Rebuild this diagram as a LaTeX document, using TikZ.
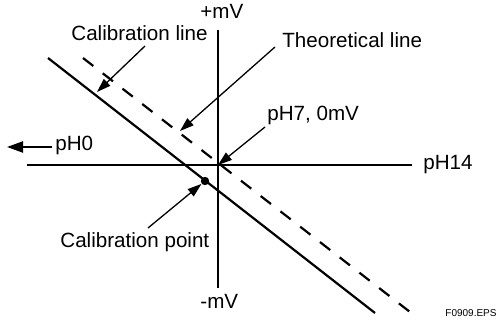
\documentclass[tikz,border=0pt]{standalone}
\usepackage{fontspec}
\setmainfont{Liberation Sans}
\usetikzlibrary{arrows.meta,positioning}

\begin{document}
\begin{tikzpicture}[x=0.5pt, y=-0.5pt,
    >={Triangle[length=7pt,width=4.6pt]},
    axis/.style={line width=1.1pt},
    pointer/.style={->, line width=0.65pt},
    lbl/.style={inner sep=0pt, anchor=base west, font=\fontsize{10.3}{12}\selectfont}]
  \useasboundingbox (0,0) rectangle (498,320);
  % axes
  \coordinate (xl) at (27,165);
  \coordinate (xr) at (412,165);
  \coordinate (yt) at (218,30);
  \coordinate (yb) at (218,288);
  \coordinate (o) at (218,165);
  \draw[axis] (xl) -- (xr);
  \draw[axis] (yt) -- (yb);
  % calibration line and theoretical line
  \coordinate (c0) at (48,58);
  \coordinate (c1) at (375,313);
  \coordinate (t0) at (83,58);
  \coordinate (t1) at (410,312);
  \draw[axis] (c0) -- (c1);
  \draw[axis, dash pattern=on 6.5pt off 6pt] (t0) -- (t1);
  \node[circle, fill, inner sep=0pt, minimum size=4.2pt] (calpt) at (205,181) {};
  % labels
  \node[lbl] (pmv) at (200,19) {+mV};
  \node[lbl] (mmv) at (200,308) {-mV};
  \node[lbl] (calline) at (71,41) {Calibration line};
  \node[lbl] (theoline) at (282,48) {Theoretical line};
  \node[lbl] (ph7) at (267,121) {pH7, 0mV};
  \node[lbl] (ph0) at (55,151) {pH0};
  \node[lbl] (ph14) at (423,170) {pH14};
  \node[lbl] (calpoint) at (60,248) {Calibration point};
  \node[lbl, font=\fontsize{5}{6}\selectfont] (fig) at (445,317) {F0909.EPS};
  % pointers
  \coordinate (calfrom) at (145,46);
  \coordinate (calto) at (97,92);
  \coordinate (theofrom) at (275,47);
  \coordinate (theoto) at (180,131);
  \coordinate (ph7from) at (265,127);
  \coordinate (ptfrom) at (148,228);
  \coordinate (ph0start) at (52,147);
  \coordinate (ph0end) at (7,147);
  \draw[pointer] (calfrom) -- (calto);
  \draw[pointer] (theofrom) -- (theoto);
  \draw[pointer] (ph7from) -- (o);
  \draw[pointer] (ptfrom) -- (calpt);
  \draw[-{Triangle[length=8pt,width=5.5pt]}, line width=1.1pt] (ph0start) -- (ph0end);
\end{tikzpicture}
\end{document}
